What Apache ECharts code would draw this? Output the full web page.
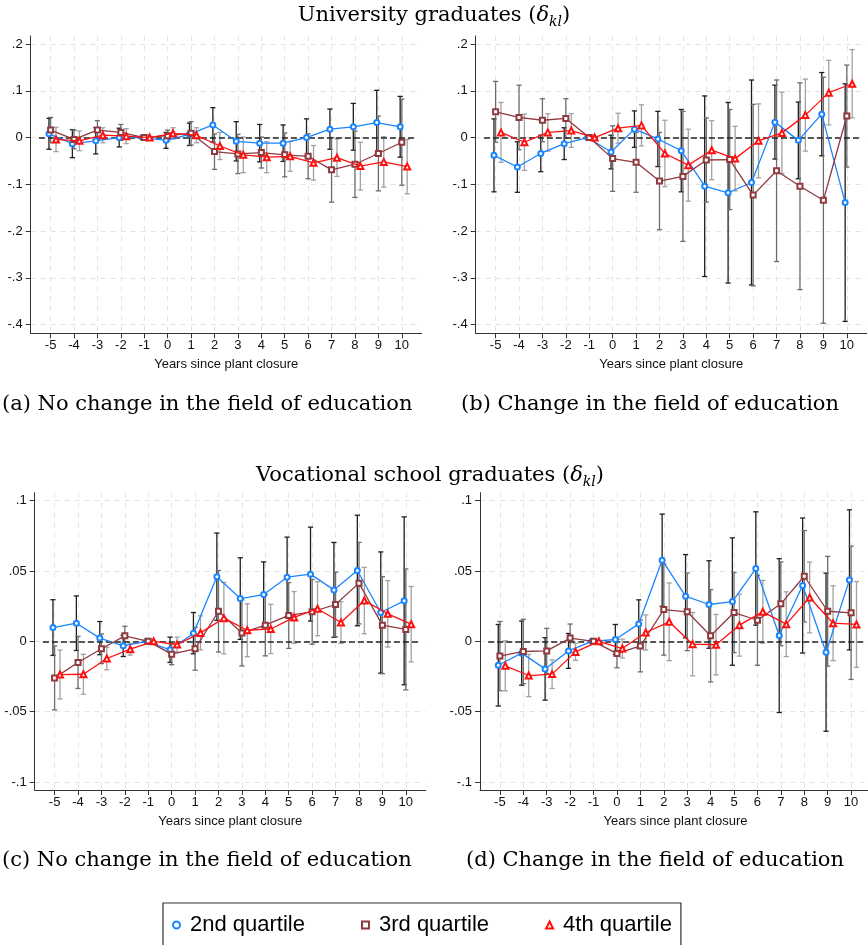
<!DOCTYPE html>
<html>
<head>
<meta charset="utf-8">
<script src="https://cdn.jsdelivr.net/npm/echarts@6/dist/echarts.min.js"></script>
<style>
  html, body { margin: 0; padding: 0; background: #ffffff; }
  #chart { width: 868px; height: 945px; }
</style>
</head>
<body>
<div id="chart"></div>
<script>
// Event-study estimates by earnings quartile, years relative to plant closure.
const years = [-5, -4, -3, -2, -1, 0, 1, 2, 3, 4, 5, 6, 7, 8, 9, 10];
const uniTicks = [-0.4, -0.3, -0.2, -0.1, 0, 0.1, 0.2];
const vocTicks = [-0.1, -0.05, 0, 0.05, 0.1];
const quartileNames = ['2nd quartile', '3rd quartile', '4th quartile'];
const xAxisTitle = 'Years since plant closure';

// (a) University graduates, no change in the field of education
const uniSameQ2   = [0.008, -0.013, -0.007, 0.000, 0, -0.006, 0.007, 0.027, -0.008, -0.012, -0.012, 0.000, 0.018, 0.023, 0.032, 0.023];
const uniSameQ2ci = [0.033, 0.030, 0.028, 0.020, 0, 0.017, 0.024, 0.037, 0.042, 0.040, 0.039, 0.040, 0.043, 0.050, 0.069, 0.065];
const uniSameQ3   = [0.016, -0.004, 0.016, 0.011, 0, 0.004, 0.009, -0.030, -0.035, -0.032, -0.037, -0.040, -0.069, -0.057, -0.034, -0.010];
const uniSameQ3ci = [0.027, 0.020, 0.020, 0.017, 0, 0.012, 0.025, 0.038, 0.042, 0.033, 0.047, 0.048, 0.069, 0.071, 0.080, 0.092];
const uniSameQ4   = [-0.004, -0.007, 0.005, 0.003, 0, 0.009, 0.005, -0.018, -0.037, -0.042, -0.040, -0.054, -0.043, -0.061, -0.052, -0.062];
const uniSameQ4ci = [0.026, 0.021, 0.016, 0.016, 0, 0.012, 0.016, 0.029, 0.038, 0.033, 0.032, 0.037, 0.040, 0.051, 0.054, 0.058];

// (b) University graduates, change in the field of education
const uniSwitchQ2   = [-0.038, -0.063, -0.034, -0.013, 0, -0.031, 0.018, -0.003, -0.028, -0.104, -0.118, -0.096, 0.033, -0.006, 0.050, -0.139];
const uniSwitchQ2ci = [0.078, 0.054, 0.039, 0.034, 0, 0.036, 0.039, 0.059, 0.088, 0.193, 0.193, 0.219, 0.079, 0.082, 0.089, 0.254];
const uniSwitchQ3   = [0.055, 0.043, 0.037, 0.041, 0, -0.045, -0.053, -0.093, -0.083, -0.048, -0.047, -0.123, -0.071, -0.104, -0.134, 0.046];
const uniSwitchQ3ci = [0.065, 0.069, 0.046, 0.042, 0, 0.070, 0.064, 0.104, 0.139, 0.090, 0.107, 0.194, 0.194, 0.221, 0.263, 0.109];
const uniSwitchQ4   = [0.011, -0.010, 0.011, 0.015, 0, 0.020, 0.026, -0.034, -0.059, -0.027, -0.045, -0.007, 0.010, 0.048, 0.096, 0.115];
const uniSwitchQ4ci = [0.064, 0.060, 0.040, 0.036, 0, 0.032, 0.044, 0.071, 0.077, 0.063, 0.069, 0.079, 0.087, 0.077, 0.069, 0.073];

// (c) Vocational school graduates, no change in the field of education
const vocSameQ2   = [0.0098, 0.0129, 0.0023, -0.0032, 0, -0.0060, 0.0058, 0.0460, 0.0304, 0.0333, 0.0456, 0.0478, 0.0366, 0.0504, 0.0205, 0.0288];
const vocSameQ2ci = [0.0198, 0.0194, 0.0118, 0.0076, 0, 0.0090, 0.0147, 0.0310, 0.0290, 0.0232, 0.0285, 0.0334, 0.0337, 0.0393, 0.0431, 0.0597];
const vocSameQ3   = [-0.0260, -0.0150, -0.0053, 0.0039, 0, -0.0091, -0.0053, 0.0214, 0.0060, 0.0115, 0.0184, 0.0210, 0.0262, 0.0414, 0.0115, 0.0085];
const vocSameQ3ci = [0.0227, 0.0185, 0.0105, 0.0068, 0, 0.0075, 0.0152, 0.0290, 0.0235, 0.0218, 0.0234, 0.0230, 0.0230, 0.0290, 0.0345, 0.0430];
const vocSameQ4   = [-0.0236, -0.0234, -0.0122, -0.0056, 0, -0.0023, 0.0060, 0.0165, 0.0079, 0.0088, 0.0170, 0.0232, 0.0134, 0.0290, 0.0196, 0.0122];
const vocSameQ4ci = [0.0174, 0.0142, 0.0080, 0.0042, 0, 0.0053, 0.0121, 0.0254, 0.0188, 0.0175, 0.0184, 0.0192, 0.0148, 0.0236, 0.0236, 0.0268];

// (d) Vocational school graduates, change in the field of education
const vocSwitchQ2   = [-0.0170, -0.0084, -0.0196, -0.0068, 0, 0.0013, 0.0124, 0.0577, 0.0321, 0.0262, 0.0283, 0.0518, 0.0041, 0.0397, -0.0077, 0.0437];
const vocSwitchQ2ci = [0.0290, 0.0228, 0.0222, 0.0124, 0, 0.0107, 0.0171, 0.0328, 0.0296, 0.0311, 0.0453, 0.0403, 0.0547, 0.0480, 0.0562, 0.0498];
const vocSwitchQ3   = [-0.0105, -0.0072, -0.0068, 0.0023, 0, -0.0087, -0.0033, 0.0226, 0.0210, 0.0040, 0.0205, 0.0150, 0.0267, 0.0463, 0.0214, 0.0203];
const vocSwitchQ3ci = [0.0246, 0.0229, 0.0160, 0.0100, 0, 0.0101, 0.0184, 0.0324, 0.0276, 0.0328, 0.0285, 0.0320, 0.0298, 0.0325, 0.0390, 0.0474];
const vocSwitchQ4   = [-0.0174, -0.0243, -0.0233, -0.0075, 0, -0.0051, 0.0063, 0.0139, -0.0020, -0.0024, 0.0115, 0.0210, 0.0122, 0.0312, 0.0129, 0.0120];
const vocSwitchQ4ci = [0.0178, 0.0150, 0.0102, 0.0060, 0, 0.0067, 0.0125, 0.0276, 0.0225, 0.0215, 0.0220, 0.0223, 0.0230, 0.0252, 0.0266, 0.0305];

// ---- styling ----
const lineColors = ['#1a85ff', '#8f3a3f', '#ff1010'];
const barColors = ['#1e1e1e', '#6c6c6c', '#a2a2a2'];
const symbols = ['emptyCircle', 'emptyRect', 'emptyTriangle'];
const legendIcons = ['circle', 'rect', 'triangle'];
const symbolSizes = [5, 5, 6];
const xShift = [-0.07, 0, 0.23];
const sansFont = 'Liberation Sans';
const serifFont = 'DejaVu Serif';
const gridColor = '#e3e3e3';

const panels = [
  { left: 30.7, top: 36, yMin: -0.4184, yMax: 0.2171, ticks: uniTicks,
    est: [uniSameQ2, uniSameQ3, uniSameQ4], ci: [uniSameQ2ci, uniSameQ3ci, uniSameQ4ci] },
  { left: 475.7, top: 36, yMin: -0.4184, yMax: 0.2171, ticks: uniTicks,
    est: [uniSwitchQ2, uniSwitchQ3, uniSwitchQ4], ci: [uniSwitchQ2ci, uniSwitchQ3ci, uniSwitchQ4ci] },
  { left: 34.7, top: 492.7, yMin: -0.1057, yMax: 0.1057, ticks: vocTicks,
    est: [vocSameQ2, vocSameQ3, vocSameQ4], ci: [vocSameQ2ci, vocSameQ3ci, vocSameQ4ci] },
  { left: 480, top: 492.7, yMin: -0.1057, yMax: 0.1057, ticks: vocTicks,
    est: [vocSwitchQ2, vocSwitchQ3, vocSwitchQ4], ci: [vocSwitchQ2ci, vocSwitchQ3ci, vocSwitchQ4ci] }
];
const panelWidth = 391;
const panelHeight = 297.3;
const xMin = -5.85, xMax = 10.85;
const zeroLineSpan = [-5.5, 10.55];

// Stata-style tick labels: ".2", "-.05", "0"
function tickText(v) {
  if (Math.abs(v) < 1e-9) return '0';
  return String(parseFloat(v.toFixed(3))).replace('0.', '.');
}

function errorBarRenderer(color) {
  return function (params, api) {
    const x = api.value(0), lo = api.value(1), hi = api.value(2);
    if (!(hi > lo)) return null;
    const top = api.coord([x, hi]);
    const bot = api.coord([x, lo]);
    const cap = 2.6;
    const st = { stroke: color, lineWidth: 1.3 };
    return {
      type: 'group',
      children: [
        { type: 'line', shape: { x1: top[0], y1: top[1], x2: bot[0], y2: bot[1] }, style: st },
        { type: 'line', shape: { x1: top[0] - cap, y1: top[1], x2: top[0] + cap, y2: top[1] }, style: st },
        { type: 'line', shape: { x1: bot[0] - cap, y1: bot[1], x2: bot[0] + cap, y2: bot[1] }, style: st }
      ]
    };
  };
}

const grids = [], xAxes = [], yAxes = [], series = [];

panels.forEach((p, gi) => {
  grids.push({ left: p.left, top: p.top, width: panelWidth, height: panelHeight, containLabel: false, outerBoundsMode: 'none' });

  xAxes.push({
    type: 'value', gridIndex: gi, min: xMin, max: xMax,
    axisLine: { show: true, onZero: false, lineStyle: { color: '#333', width: 1 } },
    axisTick: { show: true, length: 5, customValues: years, lineStyle: { color: '#333', width: 1 } },
    axisLabel: { customValues: years, formatter: v => String(v), margin: 6, fontSize: 13, color: '#111', fontFamily: sansFont },
    splitLine: { show: true, lineStyle: { color: gridColor, width: 1, type: [5, 5] } },
    name: xAxisTitle, nameLocation: 'middle', nameGap: 25,
    nameTextStyle: { fontSize: 13, color: '#111', fontFamily: sansFont }
  });

  yAxes.push({
    type: 'value', gridIndex: gi, min: p.yMin, max: p.yMax,
    axisLine: { show: true, onZero: false, lineStyle: { color: '#333', width: 1 } },
    axisTick: { show: true, length: 5, customValues: p.ticks, lineStyle: { color: '#333', width: 1 } },
    axisLabel: { customValues: p.ticks, formatter: tickText, margin: 8, fontSize: 13, color: '#111', fontFamily: sansFont },
    splitLine: { show: true, lineStyle: { color: gridColor, width: 1, type: [5, 5] } }
  });

  // dashed reference line at zero
  series.push({
    type: 'line', xAxisIndex: gi, yAxisIndex: gi, data: [], silent: true,
    markLine: {
      silent: true, symbol: 'none', label: { show: false }, animation: false,
      lineStyle: { color: '#222', type: [6, 3], width: 1.5 },
      data: [[{ coord: [zeroLineSpan[0], 0] }, { coord: [zeroLineSpan[1], 0] }]]
    },
    z: 1
  });

  // confidence intervals
  p.est.forEach((est, q) => {
    const hw = p.ci[q];
    series.push({
      type: 'custom', name: quartileNames[q] + ' CI', xAxisIndex: gi, yAxisIndex: gi,
      renderItem: errorBarRenderer(barColors[q]),
      encode: { x: 0, y: [1, 2] },
      data: years.map((yr, i) => [yr + xShift[q], est[i] - hw[i], est[i] + hw[i]]),
      z: 2 + q, silent: true
    });
  });

  // point estimates
  p.est.forEach((est, q) => {
    series.push({
      type: 'line', name: quartileNames[q], xAxisIndex: gi, yAxisIndex: gi,
      data: years.map((yr, i) => [yr + xShift[q], est[i]]),
      symbol: symbols[q], symbolSize: symbolSizes[q], showAllSymbol: true,
      lineStyle: { color: lineColors[q], width: 1.3 },
      itemStyle: { color: lineColors[q], borderWidth: 1.4 },
      z: 6 + q, silent: true
    });
  });
});

const titleRich = {
  t: { fontSize: 21, fontFamily: serifFont, color: '#000' },
  m: { fontSize: 21, fontFamily: serifFont, fontStyle: 'italic', color: '#000' },
  s: { fontSize: 14, fontFamily: serifFont, fontStyle: 'italic', color: '#000', padding: [12, 0, 0, 0] }
};

function heading(label, x, y) {
  return { type: 'text', x: x, y: y, silent: true,
    style: { text: '{t|' + label + ' (}{m|δ}{s|kl}{t|)}', align: 'center', verticalAlign: 'middle', rich: titleRich } };
}
function caption(label, x, y) {
  return { type: 'text', x: x, y: y, silent: true,
    style: { text: label, fontSize: 21, fontFamily: serifFont, fill: '#000', align: 'left', verticalAlign: 'middle' } };
}

const chart = echarts.init(document.getElementById('chart'), null, { renderer: 'canvas' });
chart.setOption({
  backgroundColor: '#ffffff',
  animation: false,
  grid: grids,
  xAxis: xAxes,
  yAxis: yAxes,
  series: series,
  legend: {
    left: 163, top: 903,
    orient: 'horizontal',
    padding: [11, 9, 40, 9],
    borderColor: '#333', borderWidth: 1.2,
    itemWidth: 7, itemHeight: 7, itemGap: 56,
    selectedMode: false,
    textStyle: { fontSize: 22, fontFamily: sansFont, color: '#000', padding: [0, 0, 0, 5] },
    data: quartileNames.map((n, q) => ({
      name: n, icon: legendIcons[q],
      itemStyle: { color: '#ffffff', borderColor: lineColors[q], borderWidth: 2 }
    }))
  },
  graphic: [
    heading('University graduates', 434, 16),
    caption('(a) No change in the field of education', 2, 405),
    caption('(b) Change in the field of education', 461, 405),
    heading('Vocational school graduates', 430, 476),
    caption('(c) No change in the field of education', 2, 861),
    caption('(d) Change in the field of education', 466, 861)
  ]
});
</script>
</body>
</html>
